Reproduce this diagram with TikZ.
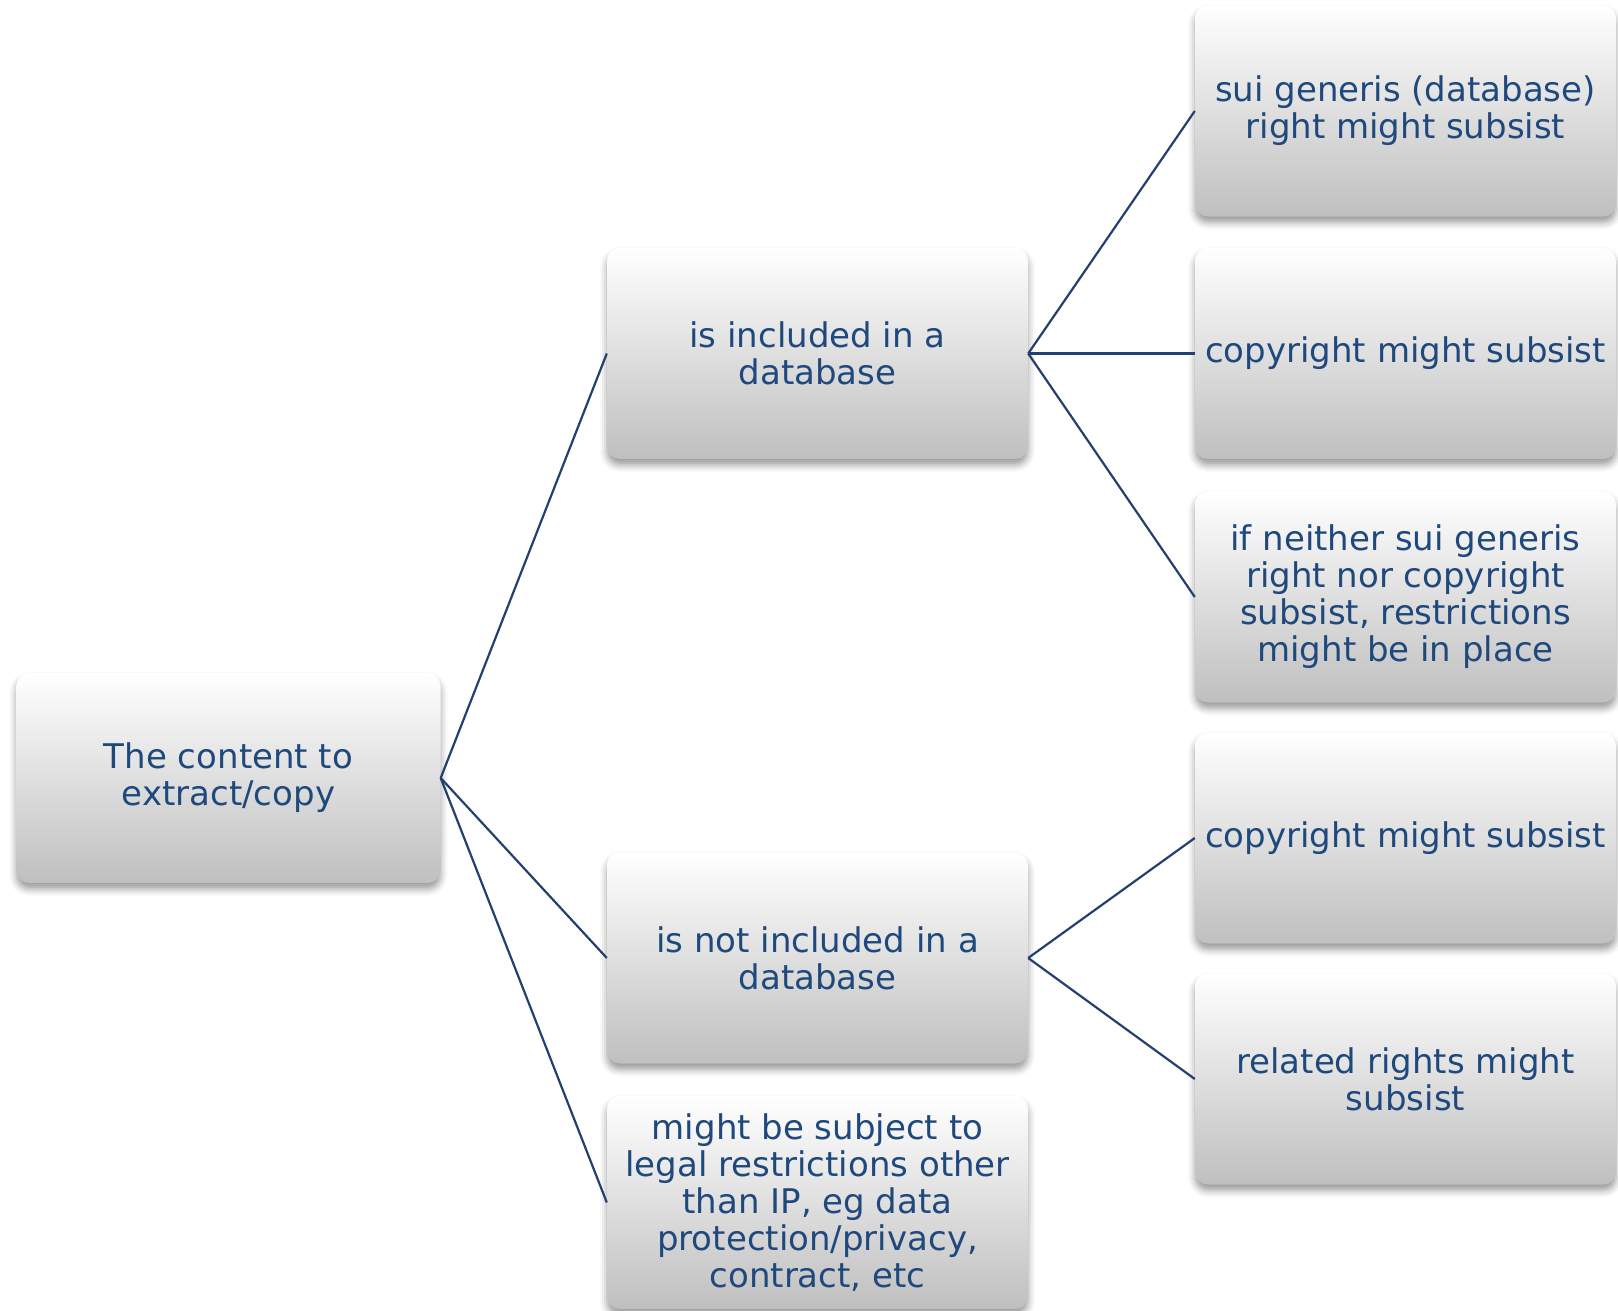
\documentclass[tikz,border=0pt]{standalone}
\usepackage{fontspec}
\setmainfont{DejaVu Sans}
\usetikzlibrary{shadows.blur}
\definecolor{txtblue}{RGB}{31,73,125}
\definecolor{lineblue}{RGB}{36,64,110}
\begin{document}
\begin{tikzpicture}[x=1pt,y=-1pt,
  box/.style={rounded corners=13pt, minimum width=421pt, minimum height=211pt,
    top color=white, bottom color=black!25, draw=none,
    blur shadow={shadow xshift=0pt, shadow yshift=-6pt, shadow blur radius=7pt, shadow opacity=40},
    text=txtblue, align=center, inner sep=0pt,
    font=\fontsize{34}{37}\selectfont},
  conn/.style={draw=lineblue, line width=2.2pt}]
\useasboundingbox (0,0) rectangle (1618,1311);
\node[box, minimum width=424pt, minimum height=210pt] (root) at (228.5,778) {The content to\\extract/copy};
\node[box] (mid1) at (817.5,353.5) {is included in a\\database};
\node[box] (mid2) at (817.5,958) {is not included in a\\database};
\node[box, minimum height=213pt] (mid3) at (817.5,1202.5) {might be subject to\\legal restrictions other\\than IP, eg data\\protection/privacy,\\contract, etc};
\node[box] (r1) at (1405.5,111) {sui generis (database)\\right might subsist};
\node[box] (r2) at (1405.5,353.5) {copyright might subsist};
\node[box] (r3) at (1405.5,597) {if neither sui generis\\right nor copyright\\subsist, restrictions\\might be in place};
\node[box] (r4) at (1405.5,838) {copyright might subsist};
\node[box] (r5) at (1405.5,1079) {related rights might\\subsist};
\draw[conn] (root.east) -- (mid1.west);
\draw[conn] (root.east) -- (mid2.west);
\draw[conn] (root.east) -- (mid3.west);
\draw[conn] (mid1.east) -- (r1.west);
\draw[conn] (mid1.east) -- (r2.west);
\draw[conn] (mid1.east) -- (r3.west);
\draw[conn] (mid2.east) -- (r4.west);
\draw[conn] (mid2.east) -- (r5.west);
\end{tikzpicture}
\end{document}
